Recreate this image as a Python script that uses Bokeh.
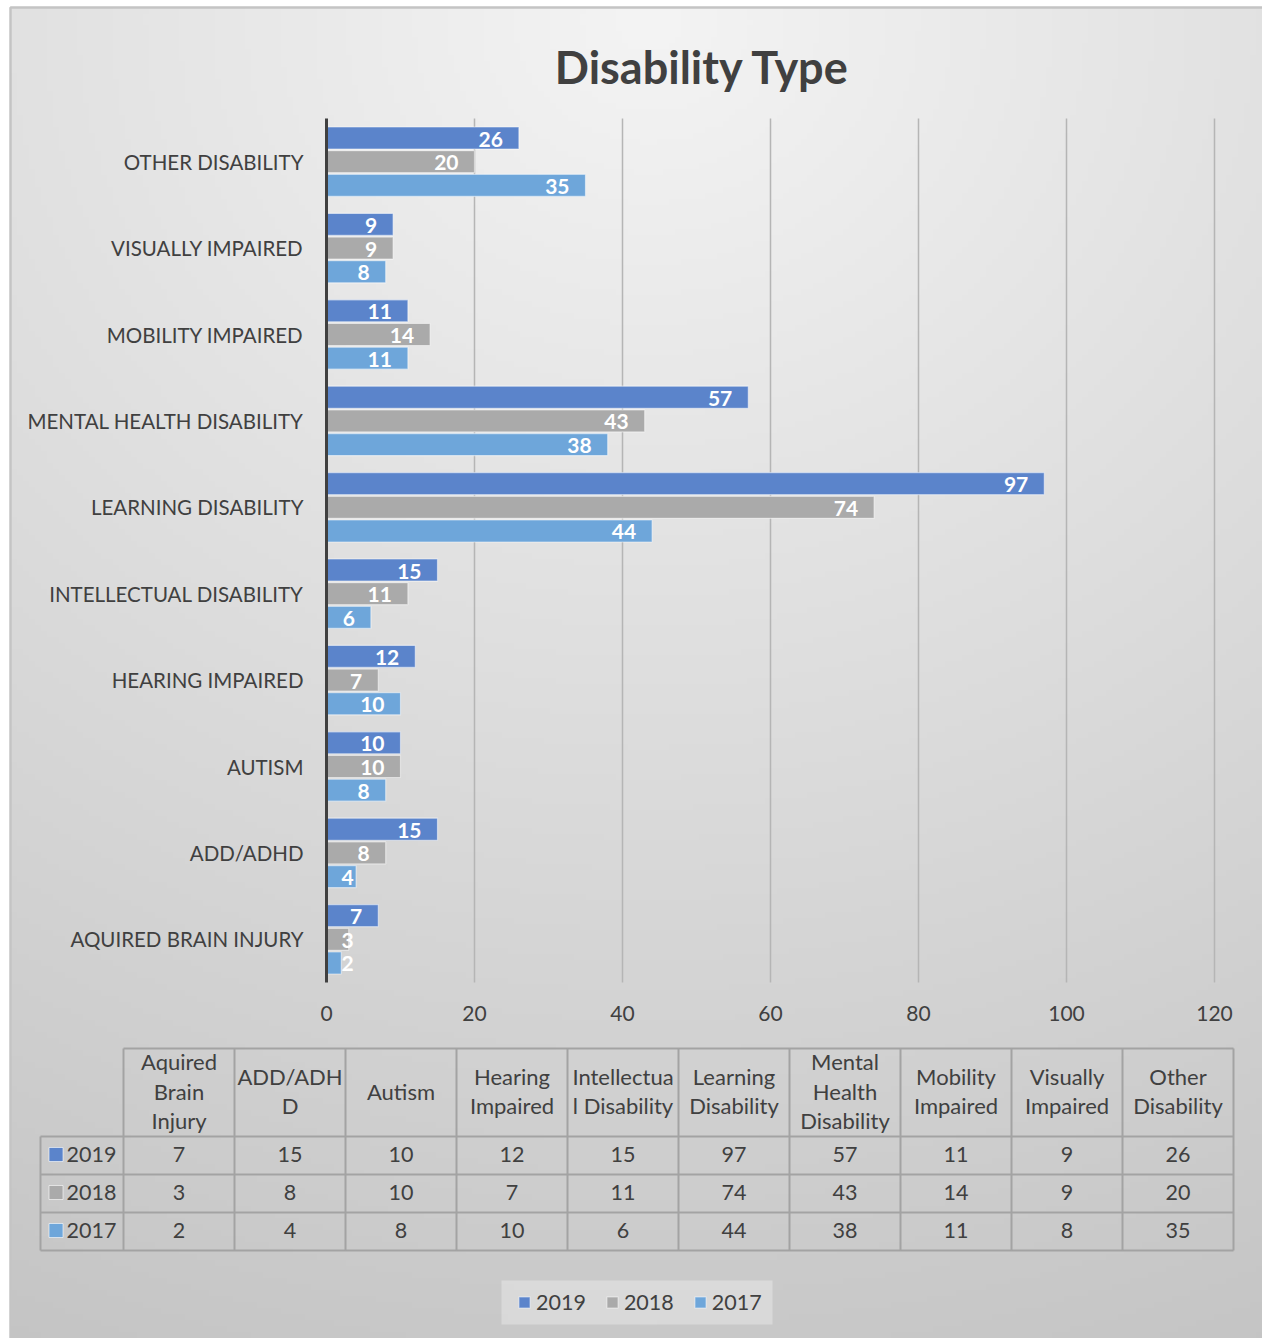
import numpy as np
from bokeh.plotting import figure
from bokeh.models import Range1d, Legend, LegendItem, ColumnDataSource
from bokeh.core.properties import value
from bokeh.embed import file_html
from bokeh.resources import INLINE

# ---------------- data ----------------
CATEGORIES = ["Aquired Brain Injury", "ADD/ADHD", "Autism", "Hearing Impaired",
              "Intellectual Disability", "Learning Disability", "Mental Health Disability",
              "Mobility Impaired", "Visually Impaired", "Other Disability"]
AXIS_LABELS = [c.upper() for c in CATEGORIES]
TABLE_HEADERS = ["Aquired\nBrain\nInjury", "ADD/ADH\nD", "Autism", "Hearing\nImpaired",
                 "Intellectua\nl Disability", "Learning\nDisability", "Mental\nHealth\nDisability",
                 "Mobility\nImpaired", "Visually\nImpaired", "Other\nDisability"]
YEARS = ["2019", "2018", "2017"]
V2019 = [7, 15, 10, 12, 15, 97, 57, 11, 9, 26]
V2018 = [3, 8, 10, 7, 11, 74, 43, 14, 9, 20]
V2017 = [2, 4, 8, 10, 6, 44, 38, 11, 8, 35]
SERIES = {"2019": V2019, "2018": V2018, "2017": V2017}
X_TICKS = [0, 20, 40, 60, 80, 100, 120]
TITLE = "Disability Type"

# ---------------- style / layout ----------------
COLORS = {"2019": "#5b84cb", "2018": "#aaaaaa", "2017": "#6ea6da"}
TEXT = "#404040"
FONT = "Lato"
W, H = 1262, 1338
AX0, PXU = 326.0, 7.4            # pixel of value 0, pixels per unit
CAT_TOP, CAT_PITCH = 118.0, 86.4  # top of category band, pixels per category
N = len(CATEGORIES)
OFFS = {"2019": 0.274, "2018": 0.0, "2017": -0.274}
BAR_H = 0.255


def idx_of(sy):
    return N - 0.5 - (sy - CAT_TOP) / CAT_PITCH


def U(sy):
    return H - sy


p = figure(width=W, height=H,
           x_range=Range1d(-AX0 / PXU, (W - AX0) / PXU),
           y_range=Range1d(idx_of(H), idx_of(0)),
           x_axis_type=None, y_axis_type=None,
           toolbar_location=None, output_backend="svg", min_border=0)
p.outline_line_color = None
p.border_fill_color = "white"
p.background_fill_color = "white"
p.extra_x_ranges = {"px": Range1d(0, W)}
p.extra_y_ranges = {"px": Range1d(0, H)}

# ---------------- gradient background ----------------
STEP = 6
ncols = int(np.ceil((W - 10) / STEP))
nrows = int(np.ceil((H - 7) / STEP))
sx = 10 + (np.arange(ncols) + 0.5) * STEP
sy = H - (np.arange(nrows) + 0.5) * STEP
SX, SY = np.meshgrid(sx, sy)
dist = np.sqrt(((SX - 650) * 0.9) ** 2 + (SY - 20) ** 2)
lum = np.clip(244 - 0.033 * dist, 0, 255).astype(np.uint8)
img = np.empty((nrows, ncols), dtype=np.uint32)
view = img.view(dtype=np.uint8).reshape((nrows, ncols, 4))
view[..., 0] = lum
view[..., 1] = lum
view[..., 2] = lum
view[..., 3] = 255
p.image_rgba(image=[img], x=10, y=0, dw=W - 10, dh=H - 7,
             x_range_name="px", y_range_name="px")
p.line(x=[10, 10, W], y=[0, U(7), U(7)], line_color="#c4c4c4", line_width=2.5,
       x_range_name="px", y_range_name="px")

# ---------------- grid + bars ----------------
p.segment(x0=X_TICKS[1:], y0=[-0.5] * (len(X_TICKS) - 1), x1=X_TICKS[1:],
          y1=[N - 0.5] * (len(X_TICKS) - 1), line_color="#b5b5b5", line_width=1.5)

renderers = {}
for yr in YEARS:
    src = ColumnDataSource(dict(y=[i + OFFS[yr] for i in range(N)], v=SERIES[yr]))
    renderers[yr] = p.hbar(y="y", left=0, right="v", height=BAR_H, source=src,
                           fill_color=COLORS[yr], line_color="white",
                           line_alpha=0.5, line_width=1.2)

p.segment(x0=[0], y0=[-0.5], x1=[0], y1=[N - 0.5], line_color=TEXT, line_width=3)

# data labels
for yr in YEARS:
    rx, ry, rt, lx, ly, lt = [], [], [], [], [], []
    for i, v in enumerate(SERIES[yr]):
        t = str(v)
        if v * PXU >= 30 + 12 * len(t):
            rx.append(v); ry.append(i + OFFS[yr]); rt.append(t)
        else:
            lx.append(0); ly.append(i + OFFS[yr]); lt.append(t)
    p.text(x=rx, y=ry, text=rt, text_align="right", text_baseline="middle",
           x_offset=-16, y_offset=1, text_color="white", text_font=value(FONT),
           text_font_style="bold", text_font_size="21px")
    p.text(x=lx, y=ly, text=lt, text_align="left", text_baseline="middle",
           x_offset=15, y_offset=1, text_color="white", text_font=value(FONT),
           text_font_style="bold", text_font_size="21px")

# tick labels
p.text(x=X_TICKS, y=[U(1013)] * len(X_TICKS), text=[str(t) for t in X_TICKS],
       y_range_name="px", text_align="center", text_baseline="middle",
       text_color=TEXT, text_font=value(FONT), text_font_size="21px")

# category labels
p.text(x=[303] * N, y=list(range(N)), text=AXIS_LABELS, x_range_name="px",
       text_align="right", text_baseline="middle", text_color=TEXT,
       text_font=value(FONT), text_font_size="20.5px")

# title
p.text(x=[702], y=[U(66)], text=[TITLE], x_range_name="px", y_range_name="px",
       text_align="center", text_baseline="middle", text_color=TEXT,
       text_font=value(FONT), text_font_style="bold", text_font_size="45px")

# ---------------- data table ----------------
T_LEFT, T_C0, T_CW = 40.0, 123.0, 111.0
T_TOP, T_HB, T_RH = 1048.0, 1136.0, 38.0
col_edges = [T_C0 + T_CW * k for k in range(N + 1)]
T_RIGHT = col_edges[-1]
row_edges = [T_HB + T_RH * k for k in range(len(YEARS) + 1)]
hx0 = [T_C0] + [T_LEFT] * len(row_edges)
hx1 = [T_RIGHT] * (len(row_edges) + 1)
hy = [T_TOP] + row_edges
vx = [T_LEFT] + col_edges
vy0 = [T_HB] + [T_TOP] * len(col_edges)
vy1 = [row_edges[-1]] * len(vx)
p.segment(x0=hx0, y0=[U(v) for v in hy], x1=hx1, y1=[U(v) for v in hy],
          line_color="#a3a3a3", line_width=2, x_range_name="px", y_range_name="px")
p.segment(x0=vx, y0=[U(v) for v in vy0], x1=vx, y1=[U(v) for v in vy1],
          line_color="#a3a3a3", line_width=2, x_range_name="px", y_range_name="px")

# headers
hx, hyy, ht = [], [], []
hc = (T_TOP + T_HB) / 2 - 1.5
for j, head in enumerate(TABLE_HEADERS):
    lines = head.split("\n")
    for k, ln in enumerate(lines):
        hx.append(T_C0 + T_CW * (j + 0.5))
        hyy.append(U(hc + (k - (len(lines) - 1) / 2) * 29.5))
        ht.append(ln)
p.text(x=hx, y=hyy, text=ht, x_range_name="px", y_range_name="px",
       text_align="center", text_baseline="middle", text_color=TEXT,
       text_font=value(FONT), text_font_size="22px")

# values
vx_, vy_, vt_ = [], [], []
for r, yr in enumerate(YEARS):
    for j, v in enumerate(SERIES[yr]):
        vx_.append(T_C0 + T_CW * (j + 0.5))
        vy_.append(U(row_edges[r] + T_RH / 2 - 1))
        vt_.append(str(v))
p.text(x=vx_, y=vy_, text=vt_, x_range_name="px", y_range_name="px",
       text_align="center", text_baseline="middle", text_color=TEXT,
       text_font=value(FONT), text_font_size="21.5px")

# row labels with keys
ry_ = [U(row_edges[r] + T_RH / 2 - 1) for r in range(len(YEARS))]
p.scatter(x=[55.5] * len(YEARS), y=ry_, marker="square", size=14,
          fill_color=[COLORS[y] for y in YEARS], line_color="white", line_alpha=0.6,
          x_range_name="px", y_range_name="px")
p.text(x=[66] * len(YEARS), y=ry_, text=YEARS, x_range_name="px", y_range_name="px",
       text_align="left", text_baseline="middle", text_color=TEXT,
       text_font=value(FONT), text_font_size="21.5px")

# ---------------- legend ----------------
LEG_L, LEG_R, LEG_T, LEG_B = 501, 772, 1280, 1324
p.quad(left=[LEG_L], right=[LEG_R], top=[U(LEG_T)], bottom=[U(LEG_B)],
       fill_color="white", fill_alpha=0.3, line_color=None,
       x_range_name="px", y_range_name="px")
legend = Legend(items=[LegendItem(label=yr, renderers=[renderers[yr]]) for yr in YEARS],
                orientation="horizontal", location=(517, H - 1324 + 9),
                glyph_width=14, glyph_height=14, label_standoff=5, spacing=19,
                padding=2, margin=0,
                label_text_font=FONT, label_text_font_size="21.5px",
                label_text_color=TEXT, background_fill_alpha=0,
                border_line_color=None)
p.add_layout(legend)

open("out.html", "w").write(file_html(p, INLINE))
